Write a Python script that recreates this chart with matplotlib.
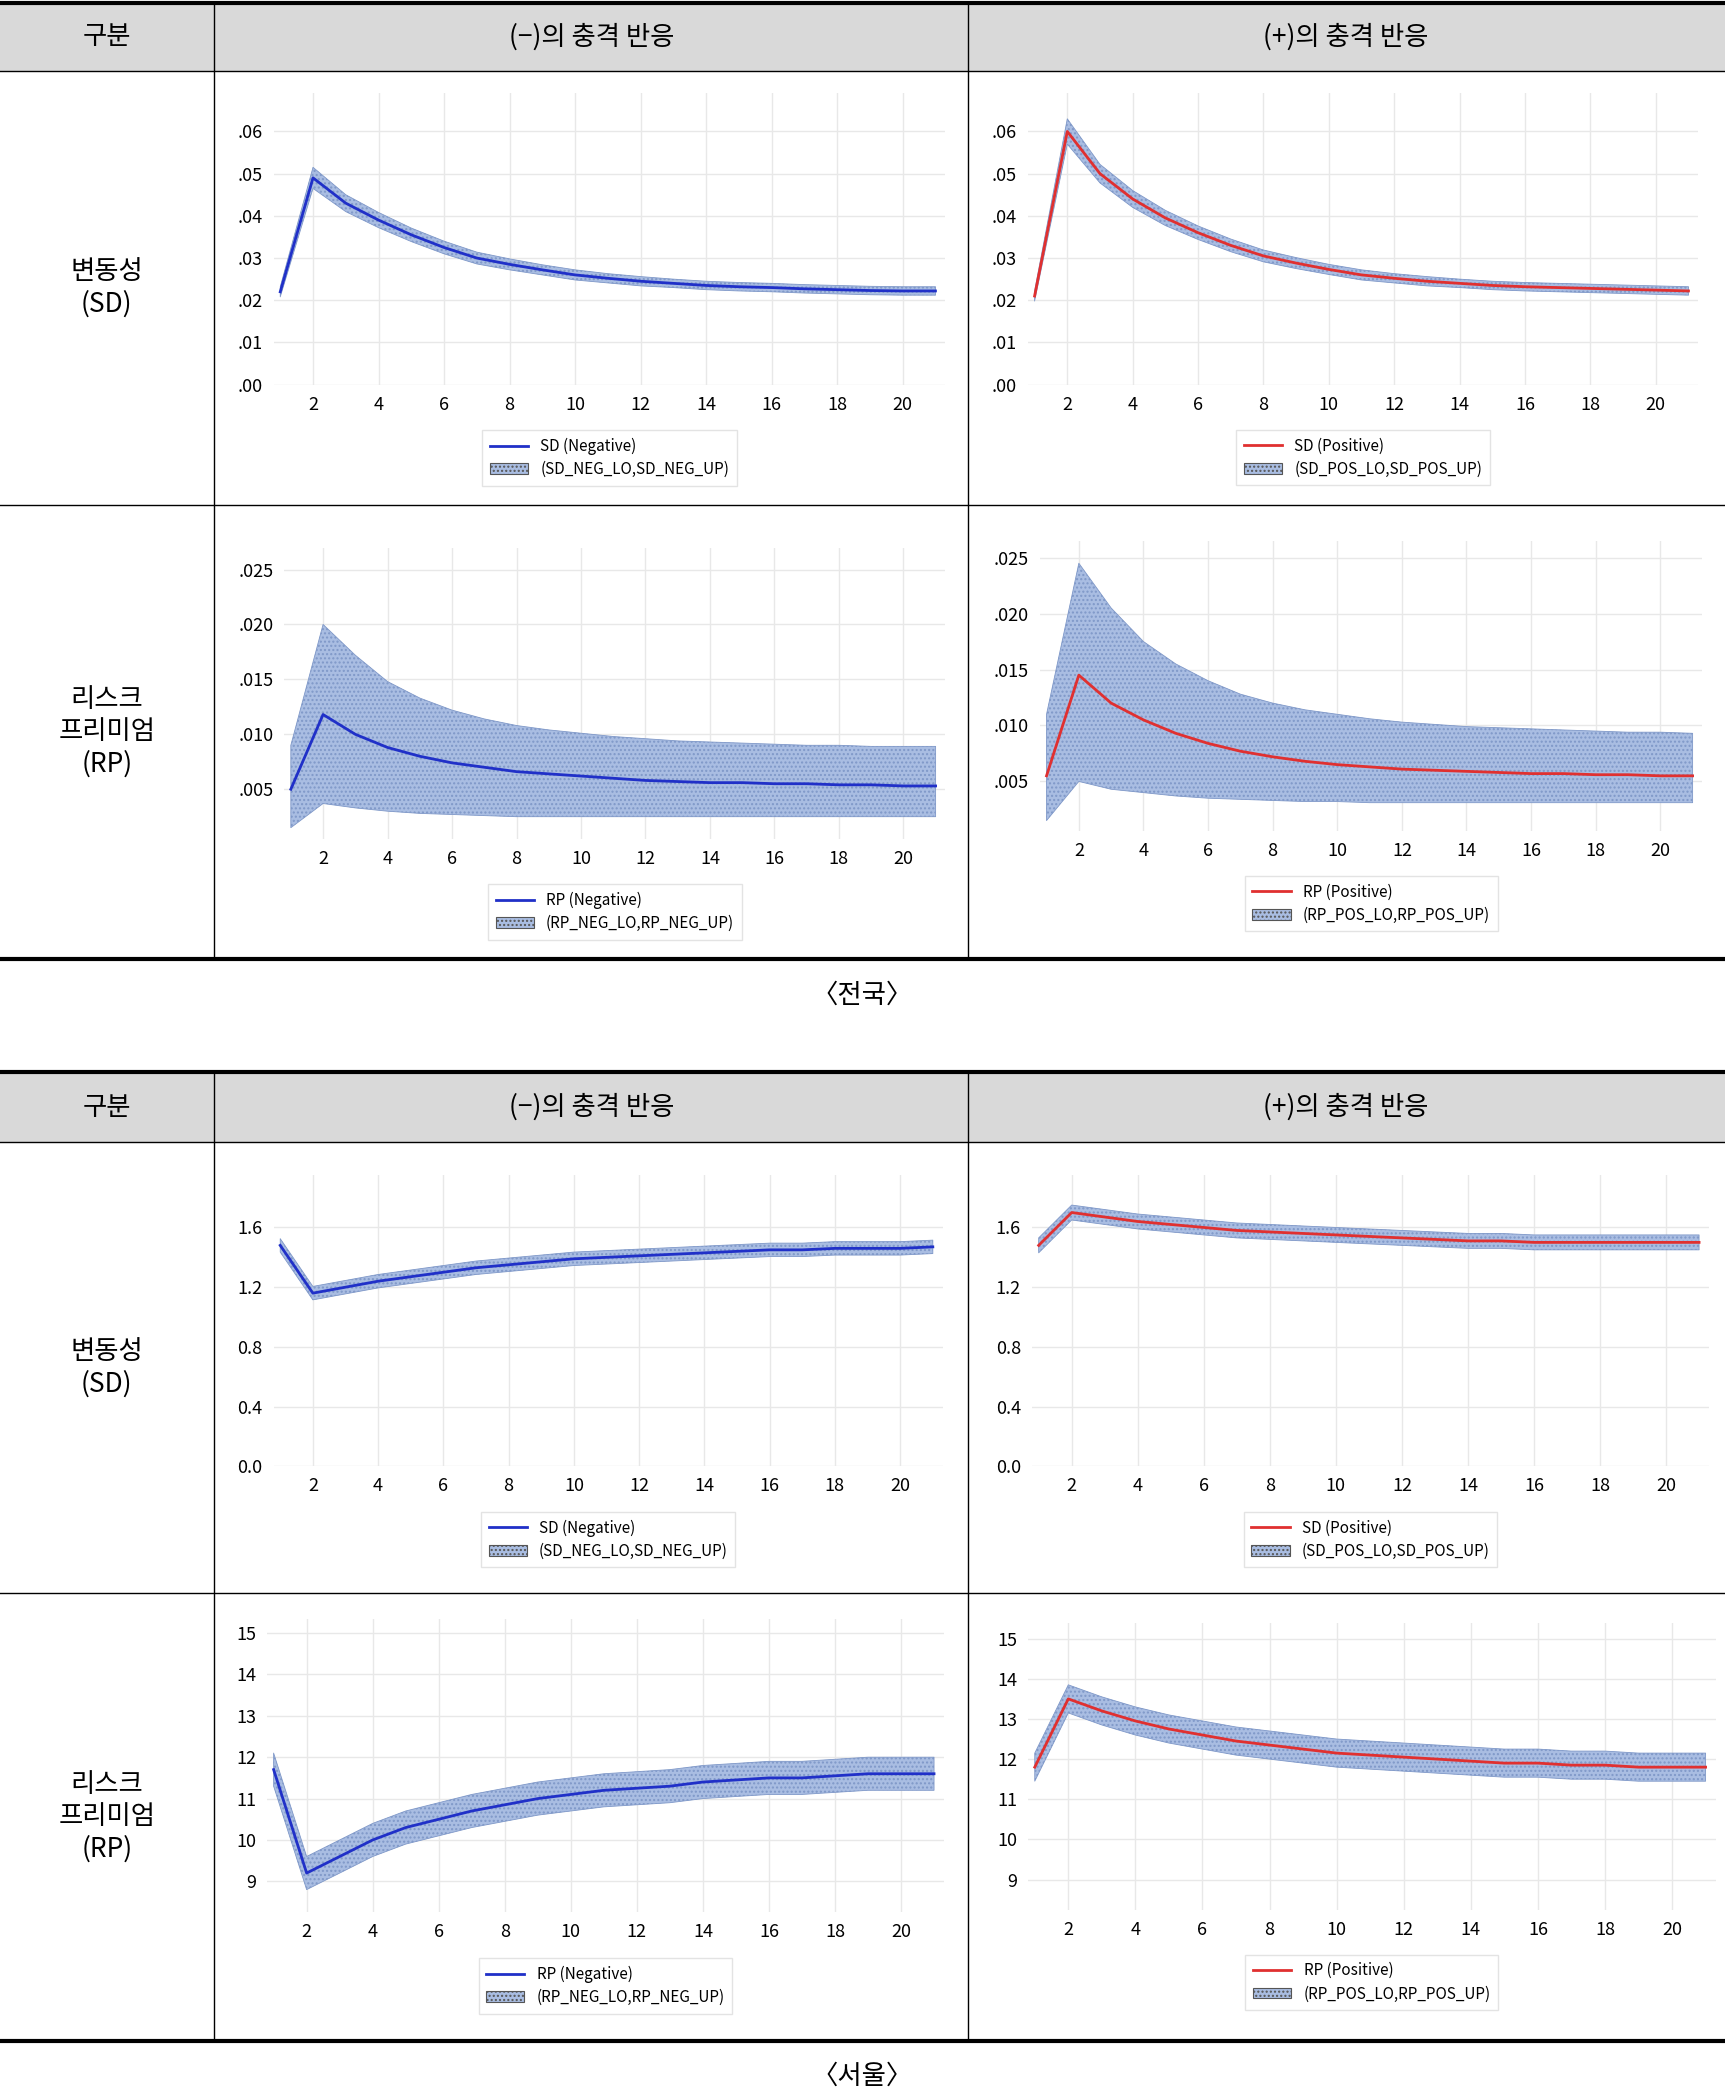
import numpy as np
import matplotlib.pyplot as plt
from matplotlib.patches import Rectangle, Patch
from matplotlib.lines import Line2D

plt.rcParams['font.family'] = ['Noto Sans CJK KR', 'DejaVu Sans']

periods = np.arange(1, 22)

# 전국
sd_neg = [.022, .049, .043, .039, .0355, .0325, .030, .0285, .0272, .026, .0252, .0245, .024, .0235, .0232, .023, .0227, .0225, .0223, .0222, .0222]
sd_neg_w = [.0012, .0025, .002, .0018, .0016, .0015, .0014, .0013, .0012, .0012, .0011, .0011, .001, .001, .001, .001, .001, .001, .001, .001, .001]
sd_pos = [.021, .060, .050, .044, .0395, .036, .033, .0305, .0288, .0273, .026, .0252, .0245, .024, .0235, .0232, .023, .0228, .0226, .0224, .0222]
sd_pos_w = [.0012, .003, .0022, .002, .0018, .0016, .0015, .0014, .0013, .0012, .0012, .0011, .0011, .001, .001, .001, .001, .001, .001, .001, .001]
rp_neg = [.005, .0118, .010, .0088, .0080, .0074, .0070, .0066, .0064, .0062, .0060, .0058, .0057, .0056, .0056, .0055, .0055, .0054, .0054, .0053, .0053]
rp_neg_lo = [.0015, .0037, .0033, .0030, .0028, .0027, .0026, .0025, .0025, .0025, .0025, .0025, .0025, .0025, .0025, .0025, .0025, .0025, .0025, .0025, .0025]
rp_neg_up = [.009, .020, .0172, .0148, .0133, .0122, .0114, .0108, .0104, .0101, .0098, .0096, .0094, .0093, .0092, .0091, .0090, .0090, .0089, .0089, .0089]
rp_pos = [.0055, .0145, .012, .0105, .0093, .0084, .0077, .0072, .0068, .0065, .0063, .0061, .0060, .0059, .0058, .0057, .0057, .0056, .0056, .0055, .0055]
rp_pos_lo = [.0015, .0050, .0043, .0040, .0037, .0035, .0034, .0033, .0032, .0032, .0031, .0031, .0031, .0031, .0031, .0031, .0031, .0031, .0031, .0031, .0031]
rp_pos_up = [.011, .0245, .0205, .0175, .0155, .0140, .0128, .0120, .0114, .0110, .0106, .0103, .0101, .0099, .0098, .0097, .0096, .0095, .0094, .0094, .0093]

# 서울
s_sd_neg = [1.48, 1.16, 1.20, 1.24, 1.27, 1.30, 1.33, 1.35, 1.37, 1.39, 1.40, 1.41, 1.42, 1.43, 1.44, 1.45, 1.45, 1.46, 1.46, 1.46, 1.47]
s_sd_pos = [1.48, 1.70, 1.67, 1.64, 1.62, 1.60, 1.58, 1.57, 1.56, 1.55, 1.54, 1.53, 1.52, 1.51, 1.51, 1.50, 1.50, 1.50, 1.50, 1.50, 1.50]
s_rp_neg = [11.7, 9.2, 9.6, 10.0, 10.3, 10.5, 10.7, 10.85, 11.0, 11.1, 11.2, 11.25, 11.3, 11.4, 11.45, 11.5, 11.5, 11.55, 11.6, 11.6, 11.6]
s_rp_pos = [11.8, 13.5, 13.2, 12.95, 12.75, 12.6, 12.45, 12.35, 12.25, 12.15, 12.1, 12.05, 12.0, 11.95, 11.9, 11.9, 11.85, 11.85, 11.8, 11.8, 11.8]

W, H = 1292, 1568
fig = plt.figure(figsize=(17.25, 20.94), dpi=100)

def fx(x):
    return x / W

def fy(y):
    return 1 - y / H

def hline(y, lw):
    fig.add_artist(Line2D([0, 1], [fy(y), fy(y)], color='black', lw=lw))

def vline(x, y0, y1):
    fig.add_artist(Line2D([fx(x), fx(x)], [fy(y0), fy(y1)], color='black', lw=1))

BAND = '#a9bde2'

def panel(rect, x, y, lo, up, color, ylim, yticks, ylabels, name, band):
    l, t, r, b = rect
    ax = fig.add_axes([fx(l), fy(b), fx(r) - fx(l), fy(t) - fy(b)])
    ax.fill_between(x, lo, up, color=BAND, edgecolor='#7f98c8', lw=0.6, hatch='....')
    ax.plot(x, y, color=color, lw=2)
    ax.set_xlim(0.8, 21.3)
    ax.set_ylim(*ylim)
    ax.set_xticks(range(2, 21, 2))
    ax.set_yticks(yticks)
    ax.set_yticklabels(ylabels)
    for s in ax.spines.values():
        s.set_visible(False)
    ax.tick_params(length=0, labelsize=13, pad=8)
    ax.grid(True, color='#e8e8e8', lw=1)
    ax.set_axisbelow(True)
    handles = [Line2D([], [], color=color, lw=2),
               Patch(facecolor=BAND, edgecolor='#555555', hatch='....', lw=0.8)]
    ax.legend(handles, [name, band], loc='upper center', bbox_to_anchor=(0.5, -0.13),
              fontsize=11, frameon=True, edgecolor='#dddddd', fancybox=False,
              handlelength=2.5, borderpad=0.5, labelspacing=0.4)
    return ax

def block(top, hb, mid, bot, cap_y, caption):
    fig.add_artist(Rectangle((0, fy(hb)), 1, fy(top) - fy(hb), facecolor='#d9d9d9', edgecolor='none'))
    hline(top, 3)
    hline(hb, 1)
    hline(mid, 1)
    hline(bot, 3)
    vline(160, top, bot)
    vline(725, top, bot)
    hc = (top + hb) / 2
    fig.text(fx(80), fy(hc), '구분', ha='center', va='center', fontsize=19)
    fig.text(fx(443), fy(hc), '(−)의 충격 반응', ha='center', va='center', fontsize=19)
    fig.text(fx(1008), fy(hc), '(+)의 충격 반응', ha='center', va='center', fontsize=19)
    fig.text(fx(80), fy((hb + mid) / 2), '변동성\n(SD)', ha='center', va='center', fontsize=19, linespacing=1.25)
    fig.text(fx(80), fy((mid + bot) / 2), '리스크\n프리미엄\n(RP)', ha='center', va='center', fontsize=19, linespacing=1.25)
    fig.text(0.5, fy(cap_y), caption, ha='center', va='center', fontsize=19)

block(2, 53, 378, 718, 745, '〈전국〉')
block(803, 855, 1193, 1528, 1555, '〈서울〉')

sd_t = [0, .01, .02, .03, .04, .05, .06]
sd_l = ['.00', '.01', '.02', '.03', '.04', '.05', '.06']
rp_t = [.005, .010, .015, .020, .025]
rp_l = ['.005', '.010', '.015', '.020', '.025']

a = np.array
panel((205, 70, 708, 288), periods, sd_neg, a(sd_neg) - a(sd_neg_w), a(sd_neg) + a(sd_neg_w), '#2030c8',
      (0, .069), sd_t, sd_l, 'SD (Negative)', '(SD_NEG_LO,SD_NEG_UP)')
panel((770, 70, 1272, 288), periods, sd_pos, a(sd_pos) - a(sd_pos_w), a(sd_pos) + a(sd_pos_w), '#e03030',
      (0, .069), sd_t, sd_l, 'SD (Positive)', '(SD_POS_LO,SD_POS_UP)')
panel((213, 410, 708, 628), periods, rp_neg, rp_neg_lo, rp_neg_up, '#2030c8',
      (.0005, .027), rp_t, rp_l, 'RP (Negative)', '(RP_NEG_LO,RP_NEG_UP)')
panel((779, 405, 1275, 622), periods, rp_pos, rp_pos_lo, rp_pos_up, '#e03030',
      (.0006, .0265), rp_t, rp_l, 'RP (Positive)', '(RP_POS_LO,RP_POS_UP)')

s_t = [0, .4, .8, 1.2, 1.6]
s_l = ['0.0', '0.4', '0.8', '1.2', '1.6']
panel((205, 880, 706, 1098), periods, s_sd_neg, a(s_sd_neg) - .045, a(s_sd_neg) + .045, '#2030c8',
      (0, 1.95), s_t, s_l, 'SD (Negative)', '(SD_NEG_LO,SD_NEG_UP)')
panel((773, 880, 1280, 1098), periods, s_sd_pos, a(s_sd_pos) - .05, a(s_sd_pos) + .05, '#e03030',
      (0, 1.95), s_t, s_l, 'SD (Positive)', '(SD_POS_LO,SD_POS_UP)')
r_t = list(range(9, 16))
panel((200, 1212, 707, 1432), periods, s_rp_neg, a(s_rp_neg) - .4, a(s_rp_neg) + .4, '#2030c8',
      (8.25, 15.35), r_t, [str(v) for v in r_t], 'RP (Negative)', '(RP_NEG_LO,RP_NEG_UP)')
panel((770, 1215, 1285, 1430), periods, s_rp_pos, a(s_rp_pos) - .35, a(s_rp_pos) + .35, '#e03030',
      (8.25, 15.4), r_t, [str(v) for v in r_t], 'RP (Positive)', '(RP_POS_LO,RP_POS_UP)')

fig.savefig('out.png', dpi=100)
